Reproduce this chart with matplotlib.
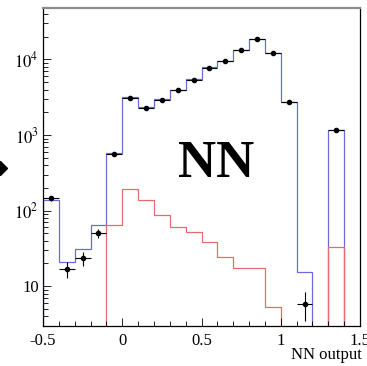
import numpy as np
import matplotlib
matplotlib.use("Agg")
import matplotlib.pyplot as plt
from matplotlib.ticker import FixedLocator, LogLocator, NullFormatter

# Fonte estilo ROOT (Times)
plt.rcParams['font.family'] = ['Liberation Serif', 'DejaVu Serif']
plt.rcParams['mathtext.fontset'] = 'stix'

# Bordas dos bins da saida da rede neural
bin_edges = [-0.5, -0.4, -0.3, -0.2, -0.1, 0.0, 0.1, 0.2, 0.3, 0.4, 0.5,
             0.6, 0.7, 0.8, 0.9, 1.0, 1.1, 1.2, 1.3, 1.4]

# Soma do MC (linha azul)
mc_total = [138, 20.6, 31, 64, 571, 3140, 2320, 2960, 3930, 5480, 7840,
            9580, 13150, 18700, 12230, 2750, 15.5, 0, 1160]

# Sinal (linha vermelha)
signal = [0, 0, 0, 0, 64, 192, 138, 87, 61, 51.5, 39,
          24.5, 17.2, 17.2, 5.3, 0, 0, 0, 33]

# Dados (pontos pretos)
data_x = [-0.45, -0.35, -0.25, -0.15, -0.05, 0.05, 0.15, 0.25, 0.35, 0.45,
          0.55, 0.65, 0.75, 0.85, 0.95, 1.05, 1.15, 1.35]
data_y = [145, 16.8, 23.5, 50, 558, 3075, 2290, 2925, 3930, 5320,
          7740, 9690, 13150, 18570, 12110, 2720, 5.9, 1161]

x_ticks = [-0.5, 0, 0.5, 1, 1.5]
x_tick_labels = ['-0.5', '0', '0.5', '1', '1.5']
y_ticks = [10, 100, 1000, 10000]
y_tick_labels = ['10', r'$10^{2}$', r'$10^{3}$', r'$10^{4}$']

fig = plt.figure(figsize=(3.67, 3.66), dpi=100)
ax = fig.add_axes([43 / 367, 1 - 325.7 / 366, (360 - 43) / 367, (325.7 - 8) / 366])

tiny = 1e-3  # bins vazios ficam abaixo do eixo
mc_plot = np.where(np.array(mc_total) > 0, mc_total, tiny)
sig_plot = np.where(np.array(signal) > 0, signal, tiny)

ax.stairs(mc_plot, bin_edges, baseline=tiny, color='#6a6ae0', lw=0.9)
ax.stairs(sig_plot, bin_edges, baseline=tiny, color='#e86a6a', lw=0.9)

data_y = np.array(data_y)
ax.errorbar(data_x, data_y, yerr=np.sqrt(data_y), xerr=0.05, fmt='o',
            color='black', ms=3.0, lw=0.8, capsize=0, zorder=5)

ax.set_yscale('log')
ax.set_xlim(-0.5, 1.5)
ax.set_ylim(3, 4.8e4)

ax.xaxis.set_major_locator(FixedLocator(x_ticks))
ax.set_xticklabels(x_tick_labels)
ax.xaxis.set_minor_locator(FixedLocator(np.arange(-0.5, 1.51, 0.1)))
ax.yaxis.set_major_locator(FixedLocator(y_ticks))
ax.set_yticklabels(y_tick_labels)
ax.yaxis.set_minor_locator(LogLocator(base=10, subs=np.arange(2, 10)))
ax.yaxis.set_minor_formatter(NullFormatter())

ax.tick_params(which='both', direction='in', top=False, right=False,
               labelsize=12, width=0.6)
ax.tick_params(which='major', length=6)
ax.tick_params(which='minor', length=3.5)
ax.tick_params(axis='x', pad=5)
ax.tick_params(axis='y', pad=3)

for s in ['left', 'bottom', 'right']:
    ax.spines[s].set_color('black')
    ax.spines[s].set_linewidth(0.9)
ax.spines['top'].set_color('#8c8c8c')
ax.spines['top'].set_linewidth(1.6)

ax.text(0.546, 0.51, 'NN', transform=ax.transAxes, ha='center', va='center',
        fontsize=38, fontweight='bold')

fig.text(0.986, 1 - 355 / 366, 'NN output', ha='right', va='center', fontsize=12)

# pedaco de seta da figura vizinha
fig.add_artist(plt.Line2D([0.0], [1 - 168 / 366], marker='D', ms=7,
                          color='black', transform=fig.transFigure))

fig.savefig('out.png', dpi=100)
